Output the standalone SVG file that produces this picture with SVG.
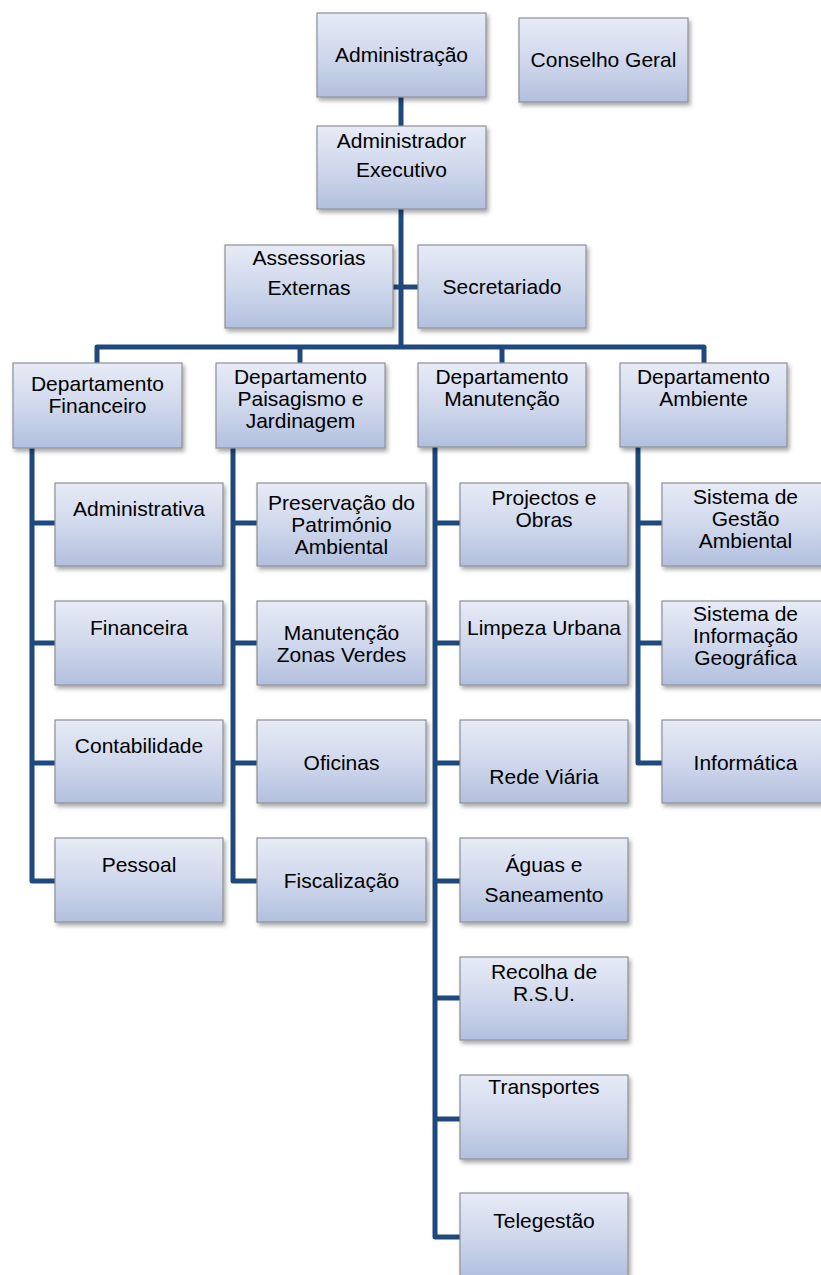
<svg xmlns="http://www.w3.org/2000/svg" width="821" height="1275" viewBox="0 0 821 1275">
<defs>
<linearGradient id="g" x1="0" y1="0" x2="0" y2="1">
<stop offset="0" stop-color="#e7ebf6"/>
<stop offset="0.5" stop-color="#d0d8ec"/>
<stop offset="1" stop-color="#b2c0de"/>
</linearGradient>
<filter id="sh" x="-10%" y="-10%" width="125%" height="130%">
<feDropShadow dx="2" dy="3" stdDeviation="2" flood-color="#000" flood-opacity="0.35"/>
</filter>
</defs>
<style>
.b{fill:url(#g);stroke:#8e9096;stroke-width:1.2;filter:url(#sh)}
.t{font-family:"Liberation Sans",Arial,sans-serif;font-size:21px;fill:#000;text-anchor:middle}
.c{fill:none;stroke:#1f497d;stroke-width:5;stroke-linejoin:round}
</style>
<g id="connectors">
<path class="c" d="M401 97V347"/>
<path class="c" d="M393 287H418"/>
<path class="c" d="M97 363V347H704V363M300 347V363M502 347V363"/>
<path class="c" d="M32 448V881H55M32 523H55M32 643H55M32 763H55"/>
<path class="c" d="M233 448V881H257M233 523H257M233 643H257M233 763H257"/>
<path class="c" d="M435 447V1237H460M435 523H460M435 643H460M435 763H460M435 881H460M435 998H460M435 1119H460"/>
<path class="c" d="M638 447V763H662M638 523H662M638 643H662"/>
</g>
<g id="administracao"><rect class="b" x="317" y="13" width="169" height="84"/><text class="t" x="401.5" y="62">Administração</text></g>
<g id="conselho-geral"><rect class="b" x="519" y="18" width="169" height="84"/><text class="t" x="603.5" y="67">Conselho Geral</text></g>
<g id="administrador-executivo"><rect class="b" x="317" y="126" width="169" height="83"/><text class="t" x="401.5" y="148">Administrador</text><text class="t" x="401.5" y="177">Executivo</text></g>
<g id="assessorias-externas"><rect class="b" x="225" y="245" width="168" height="83"/><text class="t" x="309" y="265">Assessorias</text><text class="t" x="309" y="295">Externas</text></g>
<g id="secretariado"><rect class="b" x="418" y="245" width="168" height="83"/><text class="t" x="502" y="294">Secretariado</text></g>
<g id="dep-financeiro"><rect class="b" x="13" y="363" width="169" height="85"/><text class="t" x="97.5" y="391">Departamento</text><text class="t" x="97.5" y="413">Financeiro</text></g>
<g id="dep-paisagismo"><rect class="b" x="216" y="363" width="169" height="85"/><text class="t" x="300.5" y="384">Departamento</text><text class="t" x="300.5" y="406">Paisagismo e</text><text class="t" x="300.5" y="428">Jardinagem</text></g>
<g id="dep-manutencao"><rect class="b" x="418" y="363" width="168" height="84"/><text class="t" x="502" y="384">Departamento</text><text class="t" x="502" y="406">Manutenção</text></g>
<g id="dep-ambiente"><rect class="b" x="620" y="363" width="167" height="84"/><text class="t" x="703.5" y="384">Departamento</text><text class="t" x="703.5" y="406">Ambiente</text></g>
<g id="administrativa"><rect class="b" x="55" y="483" width="168" height="83"/><text class="t" x="139" y="516">Administrativa</text></g>
<g id="financeira"><rect class="b" x="55" y="601" width="168" height="84"/><text class="t" x="139" y="635">Financeira</text></g>
<g id="contabilidade"><rect class="b" x="55" y="720" width="168" height="83"/><text class="t" x="139" y="753">Contabilidade</text></g>
<g id="pessoal"><rect class="b" x="55" y="838" width="168" height="84"/><text class="t" x="139" y="872">Pessoal</text></g>
<g id="preservacao"><rect class="b" x="257" y="483" width="169" height="83"/><text class="t" x="341.5" y="510">Preservação do</text><text class="t" x="341.5" y="532">Património</text><text class="t" x="341.5" y="554">Ambiental</text></g>
<g id="zonas-verdes"><rect class="b" x="257" y="601" width="169" height="84"/><text class="t" x="341.5" y="640">Manutenção</text><text class="t" x="341.5" y="662">Zonas Verdes</text></g>
<g id="oficinas"><rect class="b" x="257" y="720" width="169" height="83"/><text class="t" x="341.5" y="770">Oficinas</text></g>
<g id="fiscalizacao"><rect class="b" x="257" y="838" width="169" height="84"/><text class="t" x="341.5" y="888">Fiscalização</text></g>
<g id="projectos"><rect class="b" x="460" y="483" width="168" height="83"/><text class="t" x="544" y="505">Projectos e</text><text class="t" x="544" y="527">Obras</text></g>
<g id="limpeza"><rect class="b" x="460" y="601" width="168" height="84"/><text class="t" x="544" y="635">Limpeza Urbana</text></g>
<g id="rede-viaria"><rect class="b" x="460" y="720" width="168" height="83"/><text class="t" x="544" y="784">Rede Viária</text></g>
<g id="aguas"><rect class="b" x="460" y="838" width="168" height="84"/><text class="t" x="544" y="872">Águas e</text><text class="t" x="544" y="902">Saneamento</text></g>
<g id="recolha"><rect class="b" x="460" y="957" width="168" height="83"/><text class="t" x="544" y="979">Recolha de</text><text class="t" x="544" y="1001">R.S.U.</text></g>
<g id="transportes"><rect class="b" x="460" y="1075" width="168" height="84"/><text class="t" x="544" y="1094">Transportes</text></g>
<g id="telegestao"><rect class="b" x="460" y="1193" width="168" height="84"/><text class="t" x="544" y="1228">Telegestão</text></g>
<g id="sga"><rect class="b" x="662" y="483" width="167" height="83"/><text class="t" x="745.5" y="504">Sistema de</text><text class="t" x="745.5" y="526">Gestão</text><text class="t" x="745.5" y="548">Ambiental</text></g>
<g id="sig"><rect class="b" x="662" y="601" width="167" height="84"/><text class="t" x="745.5" y="621">Sistema de</text><text class="t" x="745.5" y="643">Informação</text><text class="t" x="745.5" y="665">Geográfica</text></g>
<g id="informatica"><rect class="b" x="662" y="720" width="167" height="83"/><text class="t" x="745.5" y="770">Informática</text></g>
</svg>
